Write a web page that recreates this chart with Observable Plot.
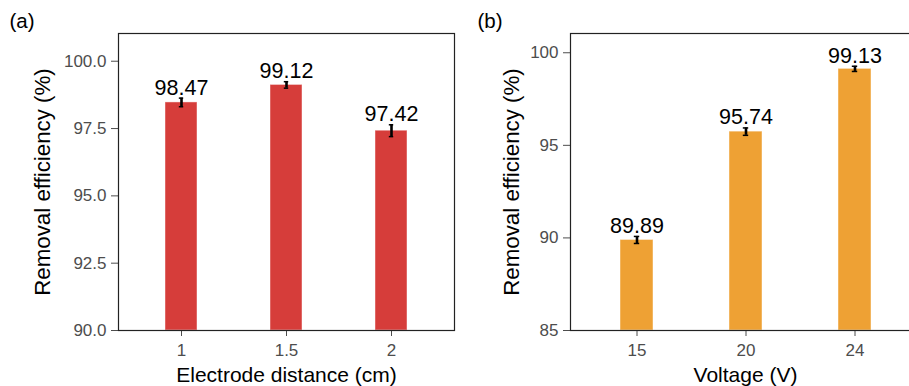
<!DOCTYPE html>
<html>
<head>
<meta charset="utf-8">
<script src="https://cdn.jsdelivr.net/npm/d3@7"></script>
<script src="https://cdn.jsdelivr.net/npm/@observablehq/plot@0.6"></script>
<style>
  html, body { margin: 0; padding: 0; background: #fff; overflow: hidden; width: 909px; height: 386px; }
  #wrap { position: relative; width: 909px; height: 386px; overflow: hidden; font-family: "Liberation Sans", Arial, Helvetica, sans-serif; }
  #pa, #pb { position: absolute; top: 0; }
  #pa { left: 0; width: 460px; }
  #pb { left: 460px; width: 462px; }
  #wrap svg { max-width: none !important; height: 386px !important; }
</style>
</head>
<body>
<div id="wrap"><div id="pa"></div><div id="pb"></div></div>
<script>
// Panel (a): electrode distance
const distCats = ["1", "1.5", "2"];
const distValues = [98.47, 99.12, 97.42];
const distErrors = [0.16, 0.12, 0.22];
const distTicks = [90, 92.5, 95, 97.5, 100];

// Panel (b): voltage
const voltCats = ["15", "20", "24"];
const voltValues = [89.89, 95.74, 99.13];
const voltErrors = [0.19, 0.20, 0.14];
const voltTicks = [85, 90, 95, 100];

const FONT = "Liberation Sans, Arial, Helvetica, sans-serif";

function panel({cats, values, errors, ticks, yDomain, fmt, color, xTitle, tag, marginLeft, marginRight, width, yTitleDx, tagDx}) {
  const data = cats.map((c, i) => ({cat: c, v: values[i], lo: values[i] - errors[i], hi: values[i] + errors[i]}));
  const base = yDomain[0];
  return Plot.plot({
    width, height: 386,
    marginLeft, marginRight, marginTop: 33, marginBottom: 56,
    style: {fontFamily: FONT, background: "white", overflow: "visible"},
    x: {type: "band", domain: cats, paddingInner: 0.7, paddingOuter: 0.45, align: 0.5},
    y: {domain: yDomain},
    marks: [
      Plot.barY(data, {x: "cat", y1: () => base, y2: "v", fill: color, stroke: "white", strokeOpacity: 0.45, strokeWidth: 1}),
      Plot.ruleX(data, {x: "cat", y1: "lo", y2: "hi", stroke: "black", strokeWidth: 2.6}),
      Plot.tickY(data, {x: "cat", y: "lo", stroke: "black", strokeWidth: 1.5, inset: 13.8}),
      Plot.tickY(data, {x: "cat", y: "hi", stroke: "black", strokeWidth: 1.5, inset: 13.8}),
      Plot.text(data, {x: "cat", y: "hi", text: d => d.v.toFixed(2), lineAnchor: "bottom", dy: -3.5, fontSize: 21.5, fill: "black"}),
      Plot.axisY({ticks, tickFormat: fmt, tickSize: 7, tickPadding: 5, fontSize: 17, color: "#4d4d4d", label: null}),
      Plot.axisX({tickSize: 6, tickPadding: 7, fontSize: 17, color: "#4d4d4d", label: null}),
      Plot.frame({stroke: "#222", strokeWidth: 1.2}),
      Plot.text([xTitle], {frameAnchor: "bottom", text: d => d, lineAnchor: "top", dy: 37, fontSize: 21, fill: "black"}),
      Plot.text(["Removal efficiency (%)"], {frameAnchor: "left", text: d => d, rotate: -90, lineAnchor: "middle", textAnchor: "middle", dx: yTitleDx, fontSize: 22.3, fill: "black"}),
      Plot.text([tag], {frameAnchor: "top-left", text: d => d, textAnchor: "start", lineAnchor: "top", dx: tagDx, dy: -20, fontSize: 20.5, fill: "black"})
    ]
  });
}

document.getElementById("pa").appendChild(panel({
  cats: distCats, values: distValues, errors: distErrors, ticks: distTicks,
  yDomain: [90, 101.03], fmt: d => d.toFixed(1), color: "#d63d3a",
  xTitle: "Electrode distance (cm)", tag: "(a)",
  marginLeft: 118, marginRight: 6, width: 460, yTitleDx: -76, tagDx: -109
}));

document.getElementById("pb").appendChild(panel({
  cats: voltCats, values: voltValues, errors: voltErrors, ticks: voltTicks,
  yDomain: [85, 101.04], fmt: d => String(d), color: "#eea134",
  xTitle: "Voltage (V)", tag: "(b)",
  marginLeft: 110, marginRight: 2, width: 462, yTitleDx: -59, tagDx: -93
}));
</script>
</body>
</html>
